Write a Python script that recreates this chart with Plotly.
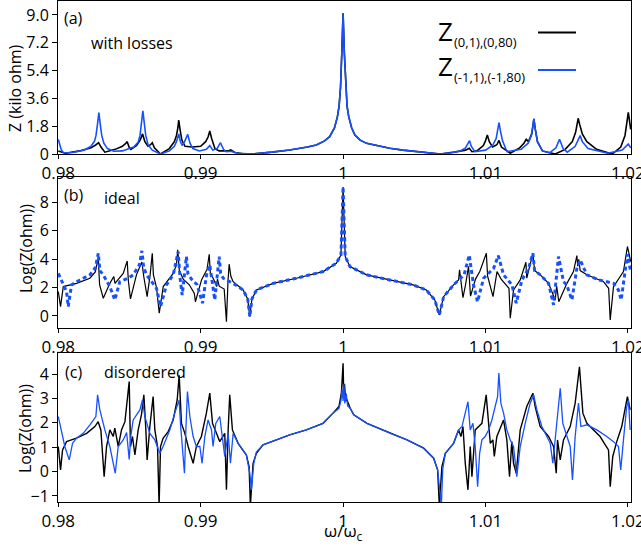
import plotly.graph_objects as go

# ---------------- data ----------------
# panel (a): Z in kilo-ohm
a_center_x = [0.99368, 0.99500, 0.99625, 0.99750, 0.99812, 0.99870, 0.99906, 0.99940, 0.99960, 0.99972,
              0.99982, 0.99991, 1.00000, 1.00009, 1.00018, 1.00028, 1.00040, 1.00060, 1.00083, 1.00120,
              1.00165, 1.00250, 1.00328, 1.00420, 1.00515, 1.00600, 1.00683]
a_center_y = [0.0, 0.12, 0.26, 0.45, 0.58, 0.85, 1.12, 1.7, 2.4, 3.1,
              4.3, 6.5, 9.1, 6.5, 4.3, 3.1, 2.4, 1.7, 1.23, 0.9,
              0.69, 0.5, 0.37, 0.25, 0.15, 0.06, 0.0]

a_blue_left_x = [0.98000, 0.98010, 0.98020, 0.98035, 0.98100, 0.98180, 0.98230, 0.98255, 0.98265, 0.98275,
                 0.98285, 0.98295, 0.98305, 0.98320, 0.98345, 0.98390, 0.98450, 0.98484, 0.98530, 0.98560,
                 0.98574, 0.98584, 0.98594, 0.98604, 0.98614, 0.98630, 0.98660, 0.98718, 0.98780, 0.98815,
                 0.98830, 0.98846, 0.98858, 0.98870, 0.98887, 0.98909, 0.98925, 0.98945, 0.98990, 0.99040,
                 0.99064, 0.99085, 0.99115, 0.99139, 0.99160, 0.99180, 0.99211, 0.99260]
a_blue_left_y = [0.95, 0.6, 0.3, 0.08, 0.10, 0.25, 0.5, 0.85, 1.2, 1.9,
                 2.68, 1.9, 1.2, 0.7, 0.35, 0.18, 0.2, 0.3, 0.45, 0.75,
                 1.2, 2.0, 2.8, 2.0, 1.2, 0.6, 0.25, 0.0, 0.2, 0.5,
                 0.8, 1.3, 0.8, 0.55, 0.8, 1.27, 0.7, 0.35, 0.2, 0.3,
                 0.54, 0.25, 0.35, 0.73, 0.3, 0.15, 0.18, 0.05]
a_blue_right_x = [1.00760, 1.00823, 1.00860, 1.00878, 1.00888, 1.00900, 1.00925, 1.01000, 1.01050, 1.01075,
                  1.01087, 1.01095, 1.01105, 1.01120, 1.01151, 1.01250, 1.01300, 1.01322, 1.01333, 1.01340,
                  1.01350, 1.01365, 1.01400, 1.01450, 1.01495, 1.01520, 1.01545, 1.01575, 1.01630, 1.01655,
                  1.01665, 1.01680, 1.01720, 1.01860, 1.01960, 1.02003, 1.02020]
a_blue_right_y = [0.08, 0.2, 0.4, 0.65, 0.86, 0.5, 0.15, 0.25, 0.55, 1.0,
                  1.5, 2.03, 1.5, 0.85, 0.15, 0.3, 0.7, 1.2, 1.8, 2.27,
                  1.6, 0.8, 0.2, 0.08, 0.4, 0.95, 0.35, 0.12, 0.5, 0.95,
                  1.19, 0.8, 0.35, 0.05, 0.25, 0.65, 0.4]

a_black_left_x = [0.98000, 0.98050, 0.98150, 0.98230, 0.98265, 0.98283, 0.98300, 0.98327, 0.98400, 0.98450,
                  0.98470, 0.98484, 0.98497, 0.98510, 0.98550, 0.98575, 0.98592, 0.98608, 0.98630, 0.98648,
                  0.98660, 0.98675, 0.98718, 0.98780, 0.98815, 0.98830, 0.98840, 0.98846, 0.98855, 0.98868,
                  0.98890, 0.98940, 0.99000, 0.99035, 0.99052, 0.99064, 0.99077, 0.99100, 0.99130, 0.99190,
                  0.99211, 0.99240, 0.99300]
a_black_left_y = [0.2, 0.05, 0.2, 0.4, 0.6, 0.73, 0.45, 0.12, 0.3, 0.5,
                  0.65, 0.8, 0.45, 0.3, 0.55, 0.9, 1.3, 0.8, 0.5, 0.6,
                  0.73, 0.4, 0.0, 0.35, 0.8, 1.2, 1.7, 2.2, 1.6, 0.9,
                  0.5, 0.45, 0.5, 0.8, 1.1, 1.49, 1.0, 0.35, 0.2, 0.2,
                  0.26, 0.1, 0.02]
a_black_right_x = [1.00780, 1.00860, 1.00886, 1.00905, 1.00940, 1.00985, 1.01000, 1.01013, 1.01027, 1.01050,
                   1.01080, 1.01095, 1.01112, 1.01174, 1.01240, 1.01270, 1.01286, 1.01302, 1.01325, 1.01340,
                   1.01350, 1.01365, 1.01400, 1.01490, 1.01560, 1.01610, 1.01633, 1.01645, 1.01651, 1.01662,
                   1.01680, 1.01712, 1.01780, 1.01890, 1.01950, 1.01980, 1.01995, 1.02003, 1.02020]
a_black_right_y = [0.12, 0.25, 0.37, 0.15, 0.2, 0.55, 0.85, 1.23, 0.8, 0.45,
                   0.6, 0.88, 0.45, 0.05, 0.4, 0.7, 0.95, 0.8, 1.3, 2.27,
                   1.6, 0.8, 0.2, 0.0, 0.3, 0.8, 1.4, 1.9, 2.31, 1.9,
                   1.3, 0.8, 0.3, 0.0, 0.45, 1.2, 2.0, 2.7, 1.6]

# panel (b): ideal, Log(Z(ohm))
b_center_x = [0.99298, 0.99330, 0.99345, 0.99360, 0.99392, 0.99509, 0.99672, 0.99860, 0.99953, 0.99985,
              1.00000, 1.00015, 1.00048, 1.00165, 1.00328, 1.00492, 1.00585, 1.00644, 1.00676, 1.00706,
              1.00776, 1.00811]
b_center_y = [1.83, 1.2, -0.05, 1.2, 1.83, 2.3, 2.66, 3.13, 3.72, 4.3,
              9.1, 4.2, 3.48, 2.9, 2.54, 2.19, 1.83, 1.13, 0.07, 1.36,
              2.19, 2.54]

b_black_left_x = [0.98000, 0.98016, 0.98035, 0.98128, 0.98222, 0.98260, 0.98281, 0.98290, 0.98316, 0.98362,
                  0.98390, 0.98398, 0.98456, 0.98484, 0.98492, 0.98507, 0.98549, 0.98575, 0.98587, 0.98600,
                  0.98624, 0.98645, 0.98660, 0.98668, 0.98690, 0.98709, 0.98737, 0.98807, 0.98830, 0.98839,
                  0.98850, 0.98877, 0.98920, 0.98955, 0.98963, 0.99006, 0.99045, 0.99060, 0.99068, 0.99090,
                  0.99112, 0.99118, 0.99130, 0.99165, 0.99181, 0.99192, 0.99200, 0.99212, 0.99228]
b_black_left_y = [1.72, 0.66, 2.07, 2.3, 2.66, 3.1, 4.07, 2.2, 1.25, 2.3,
                  2.78, 2.3, 3.0, 3.88, 2.5, 1.2, 2.9, 3.6, 3.8, 2.8,
                  1.36, 2.9, 4.42, 2.9, 2.0, 0.19, 2.07, 3.0, 3.6, 4.66,
                  3.2, 2.6, 2.2, 1.6, 1.0, 2.54, 3.3, 4.35, 3.0, 2.6,
                  2.07, 2.6, 2.1, 1.9, -0.4, 2.5, 3.65, 2.8, 2.42]
b_black_right_x = [1.00818, 1.00842, 1.00860, 1.00881, 1.00895, 1.00930, 1.00960, 1.01006, 1.01015, 1.01053,
                   1.01081, 1.01110, 1.01165, 1.01174, 1.01197, 1.01244, 1.01284, 1.01290, 1.01333, 1.01345,
                   1.01385, 1.01443, 1.01490, 1.01500, 1.01515, 1.01572, 1.01618, 1.01642, 1.01648, 1.01655,
                   1.01665, 1.01712, 1.01829, 1.01865, 1.01876, 1.01899, 1.01969, 1.01997, 1.02020]
b_black_right_y = [3.25, 1.29, 2.2, 3.5, 1.4, 2.6, 3.13, 4.42, 2.8, 1.36,
                   3.13, 2.6, 1.95, -0.16, 1.83, 2.54, 3.79, 2.66, 4.42, 3.2,
                   2.9, 2.3, 1.13, 2.1, 1.0, 2.3, 3.13, 4.26, 3.5, 4.0,
                   3.2, 2.9, 2.42, 1.95, -0.28, 2.07, 3.13, 4.9, 3.83]

b_blue_left_x = [0.98000, 0.98035, 0.98058, 0.98070, 0.98093, 0.98152, 0.98222, 0.98260, 0.98281, 0.98292,
                 0.98316, 0.98362, 0.98397, 0.98432, 0.98491, 0.98526, 0.98570, 0.98587, 0.98600, 0.98620,
                 0.98690, 0.98718, 0.98760, 0.98807, 0.98842, 0.98855, 0.98870, 0.98900, 0.98910, 0.98935,
                 0.98975, 0.99013, 0.99041, 0.99064, 0.99075, 0.99099, 0.99130, 0.99140, 0.99158, 0.99228]
b_blue_left_y = [3.0, 2.19, 1.72, 0.66, 2.19, 2.54, 2.9, 3.4, 4.42, 3.2,
                 2.9, 2.07, 1.13, 2.42, 2.66, 2.9, 3.6, 4.59, 3.4, 2.9,
                 1.95, 0.66, 2.19, 2.9, 4.54, 2.7, 1.48, 4.19, 3.0, 2.6,
                 2.2, 0.9, 2.9, 3.6, 2.8, 1.13, 4.19, 3.0, 2.66, 2.3]
b_blue_right_x = [1.00850, 1.00886, 1.00916, 1.00944, 1.00987, 1.01057, 1.01090, 1.01127, 1.01186, 1.01216,
                  1.01256, 1.01303, 1.01333, 1.01345, 1.01385, 1.01443, 1.01478, 1.01513, 1.01548, 1.01570,
                  1.01607, 1.01642, 1.01665, 1.01712, 1.01797, 1.01899, 1.01934, 1.01953, 1.01981, 1.01997,
                  1.02020]
b_blue_right_y = [2.9, 4.3, 2.19, 1.0, 2.66, 3.36, 4.26, 2.9, 2.19, 0.9,
                  2.54, 3.36, 4.42, 3.2, 2.9, 2.3, 0.78, 4.19, 2.42, 2.2,
                  1.13, 3.36, 3.95, 2.9, 2.54, 2.3, 1.83, 1.13, 3.13, 4.35,
                  3.13]

# panel (c): disordered, Log(Z(ohm))
c_black_x = [0.98000, 0.98007, 0.98016, 0.98030, 0.98058, 0.98128, 0.98199, 0.98257, 0.98280, 0.98299,
             0.98315, 0.98322, 0.98339, 0.98362, 0.98386, 0.98397, 0.98421, 0.98444, 0.98468, 0.98484,
             0.98498, 0.98507, 0.98521, 0.98538, 0.98561, 0.98584, 0.98601, 0.98615, 0.98624, 0.98643,
             0.98666, 0.98678, 0.98697, 0.98708, 0.98718, 0.98736, 0.98772, 0.98807, 0.98835, 0.98849,
             0.98865, 0.98889, 0.98912, 0.98947, 0.98970, 0.99005, 0.99040, 0.99064, 0.99083, 0.99111,
             0.99134, 0.99169, 0.99181, 0.99193, 0.99204, 0.99223, 0.99263, 0.99321, 0.99340, 0.99349,
             0.99368, 0.99391, 0.99438, 0.99532, 0.99625, 0.99742, 0.99859, 0.99929, 0.99971, 0.99988,
             1.00000, 1.00005, 1.00010, 1.00018, 1.00028, 1.00050, 1.00075, 1.00168, 1.00332, 1.00449,
             1.00566, 1.00636, 1.00664, 1.00676, 1.00694, 1.00718, 1.00776, 1.00811, 1.00828, 1.00842,
             1.00858, 1.00877, 1.00893, 1.00905, 1.00928, 1.00975, 1.01005, 1.01022, 1.01034, 1.01052,
             1.01062, 1.01080, 1.01127, 1.01150, 1.01169, 1.01185, 1.01197, 1.01216, 1.01244, 1.01290,
             1.01333, 1.01349, 1.01384, 1.01443, 1.01478, 1.01497, 1.01506, 1.01525, 1.01548, 1.01595,
             1.01630, 1.01660, 1.01684, 1.01712, 1.01759, 1.01805, 1.01841, 1.01864, 1.01876, 1.01894,
             1.01922, 1.01957, 1.01988, 1.01997, 1.02016]
c_black_y = [1.03, 0.62, 0.07, 0.89, 1.23, 1.37, 1.57, 1.85, 2.05, 1.71,
             0.48, -0.21, 1.03, 1.71, 1.44, 1.78, 1.03, 1.71, 2.05, 2.94,
             3.7, 1.03, 1.44, 0.68, 1.71, 2.33, 3.15, 1.71, 0.48, 1.85,
             3.08, 1.71, 1.03, -1.4, 1.03, 1.37, 1.64, 2.12, 2.94, 3.95,
             1.98, 1.57, 1.03, 0.34, 1.03, 1.44, 2.4, 3.22, 1.98, 1.57,
             1.23, 1.57, -0.75, 1.71, 3.15, 1.71, 1.16, 0.68, 0.2, -1.4,
             0.34, 0.75, 1.1, 1.3, 1.51, 1.71, 1.98, 2.4, 2.67, 3.22,
             4.45, 3.0, 3.6, 2.9, 2.94, 2.6, 2.33, 1.98, 1.57, 1.3,
             0.96, 0.55, 0.07, -1.4, 0.2, 0.75, 1.16, 1.71, 1.44, 1.85,
             0.34, -0.75, 1.03, -0.21, 1.71, 1.98, 3.15, 1.98, 1.16, 1.3,
             0.62, 1.44, 2.12, 1.3, -0.21, 1.23, 0.34, -0.07, 1.71, 2.67,
             3.22, 2.67, 1.85, 1.44, 1.03, -0.07, 1.3, 0.48, 1.3, 1.85,
             2.81, 4.3, 2.4, 1.98, 1.71, 1.44, 1.1, 0.89, -0.62, 0.62,
             1.23, 1.85, 2.81, 3.08, 2.53]

c_blue_x = [0.98000, 0.98023, 0.98046, 0.98077, 0.98100, 0.98128, 0.98175, 0.98222, 0.98264, 0.98276,
            0.98292, 0.98327, 0.98362, 0.98386, 0.98400, 0.98421, 0.98456, 0.98480, 0.98498, 0.98510,
            0.98526, 0.98573, 0.98591, 0.98608, 0.98643, 0.98678, 0.98713, 0.98736, 0.98783, 0.98818,
            0.98849, 0.98858, 0.98877, 0.98886, 0.98896, 0.98907, 0.98924, 0.98947, 0.98970, 0.98994,
            0.99010, 0.99029, 0.99052, 0.99076, 0.99087, 0.99106, 0.99134, 0.99158, 0.99169, 0.99193,
            0.99209, 0.99228, 0.99263, 0.99321, 0.99345, 0.99356, 0.99373, 0.99391, 0.99438, 0.99532,
            0.99625, 0.99742, 0.99859, 0.99929, 0.99971, 0.99985, 0.99993, 1.00000, 1.00006, 1.00012,
            1.00022, 1.00032, 1.00050, 1.00075, 1.00168, 1.00332, 1.00449, 1.00566, 1.00636, 1.00664,
            1.00690, 1.00700, 1.00718, 1.00776, 1.00811, 1.00835, 1.00877, 1.00893, 1.00912, 1.00928,
            1.00945, 1.00959, 1.00975, 1.00998, 1.01022, 1.01045, 1.01069, 1.01085, 1.01094, 1.01108,
            1.01127, 1.01150, 1.01174, 1.01197, 1.01220, 1.01244, 1.01279, 1.01314, 1.01338, 1.01361,
            1.01396, 1.01431, 1.01455, 1.01473, 1.01490, 1.01506, 1.01525, 1.01543, 1.01571, 1.01595,
            1.01611, 1.01630, 1.01653, 1.01670, 1.01712, 1.01782, 1.01852, 1.01899, 1.01934, 1.01950,
            1.01969, 1.01992, 1.02004, 1.02016]
c_blue_y = [2.26, 1.57, 1.03, 0.48, 1.16, 1.37, 1.57, 1.92, 2.26, 3.15,
            2.53, 1.71, 1.03, 0.34, -0.07, 1.03, 1.3, 1.6, 0.5, 1.5,
            2.12, 2.53, 2.94, 2.26, 1.57, 1.3, 0.75, 1.03, 1.71, 2.4,
            2.94, 1.98, 0.62, -0.07, 1.71, 3.29, 2.26, 1.44, 1.03, 1.03,
            0.34, 1.44, 2.12, 1.71, 1.03, 1.98, 2.26, 1.03, 0.62, 1.57,
            0.34, 1.57, 1.16, 0.68, -0.07, -0.75, 0.34, 0.8, 1.1, 1.3,
            1.51, 1.71, 1.98, 2.4, 2.6, 2.9, 3.4, 2.9, 3.6, 2.8,
            3.2, 2.7, 2.6, 2.33, 1.98, 1.57, 1.3, 0.96, 0.55, 0.07,
            -1.4, 0.1, 0.75, 1.16, 1.71, 1.85, 2.87, 1.71, 1.98, 1.03,
            -0.62, 0.75, 1.3, 1.44, 1.71, 2.12, 2.67, 3.08, 4.05, 2.81,
            2.4, 1.71, 1.3, 1.03, -0.21, 1.03, 1.98, 2.81, 3.15, 2.53,
            1.85, 1.44, 1.16, 0.34, 1.3, 2.46, 3.42, 1.98, 1.44, 1.03,
            -0.34, 1.44, 2.81, 1.85, 1.92, 1.71, 1.44, 1.23, 1.03, 0.07,
            1.3, 2.67, 2.94, 1.71]

x_ticks = [0.98, 0.99, 1.0, 1.01, 1.02]
x_tick_labels = ["0.98", "0.99", "1", "1.01", "1.02"]
a_ticks = [0, 1.8, 3.6, 5.4, 7.2, 9.0]
a_tick_labels = ["0", "1.8", "3.6", "5.4", "7.2", "9.0"]
b_ticks = [0, 2, 4, 6, 8]
c_ticks = [-1, 0, 1, 2, 3, 4]

legend_labels = ["(0,1),(0,80)", "(-1,1),(-1,80)"]

# ---------------- figure ----------------
BLACK = "#000000"
BLUE = "#1650ff"
FONT = "Open Sans"
W, H = 641, 550
ML, MR, MT, MB = 58, 10, 1, 48

def px2paper(px, py):
    return (px - ML) / (W - ML - MR), 1 - (py - MT) / (H - MT - MB)

fig = go.Figure()

def add(x, y, color, width, xa, ya, dash=None):
    fig.add_trace(go.Scatter(x=x, y=y, mode="lines",
                             line=dict(color=color, width=width, dash=dash),
                             xaxis=xa, yaxis=ya, showlegend=False, hoverinfo="skip"))

add(a_black_left_x + a_center_x + a_black_right_x, a_black_left_y + a_center_y + a_black_right_y,
    BLACK, 1.6, "x", "y")
add(a_blue_left_x + a_center_x + a_blue_right_x, a_blue_left_y + a_center_y + a_blue_right_y,
    BLUE, 1.6, "x", "y")
add(b_black_left_x + b_center_x + b_black_right_x, b_black_left_y + b_center_y + b_black_right_y,
    BLACK, 1.2, "x2", "y2")
add(b_blue_left_x + b_center_x + b_blue_right_x, b_blue_left_y + b_center_y + b_blue_right_y,
    BLUE, 3, "x2", "y2", dash="4px,3px")
add(c_black_x, c_black_y, BLACK, 1.4, "x3", "y3")
add(c_blue_x, c_blue_y, BLUE, 1.3, "x3", "y3")

XR = [0.97998, 1.02022]
dom_a = [px2paper(0, 154)[1], px2paper(0, 1)[1]]
dom_b = [px2paper(0, 328)[1], px2paper(0, 177)[1]]
dom_c = [0, px2paper(0, 353)[1]]

tickfont_x = dict(family=FONT, size=17, color="black")
tickfont_y = dict(family=FONT, size=16, color="black")

def xax(anchor):
    return dict(domain=[0, 1], range=XR, anchor=anchor, tickmode="array", tickvals=x_ticks,
                ticktext=x_tick_labels, ticks="outside", ticklen=4, tickcolor="black",
                showline=True, linecolor="black", linewidth=1, mirror=True, automargin=False,
                ticklabeloverflow="allow",
                showgrid=False, zeroline=False, tickfont=tickfont_x)

def yax(anchor, dom, rng, tv, tt=None):
    d = dict(domain=dom, range=rng, anchor=anchor, tickmode="array", tickvals=tv,
             ticks="outside", ticklen=5, tickcolor="black", automargin=False,
             showline=True, linecolor="black", linewidth=1, mirror=True,
             showgrid=False, zeroline=False, tickfont=tickfont_y)
    if tt is not None:
        d["ticktext"] = tt
    return d

def xtop(over, anchor):
    return dict(overlaying=over, anchor=anchor, side="top", range=XR, tickmode="array",
                tickvals=x_ticks, ticks="inside", ticklen=4, tickcolor="black", automargin=False,
                showticklabels=False, showline=False, showgrid=False, zeroline=False)

def yright(over, anchor, rng, dt):
    return dict(overlaying=over, anchor=anchor, side="right", range=rng, tickmode="linear",
                tick0=0, dtick=dt, ticks="inside", ticklen=3, tickcolor="black", automargin=False,
                showticklabels=False, showline=False, showgrid=False, zeroline=False)

RA = [0, 9.9]
RB = [-0.85, 9.8]
RC = [-1.25, 4.87]

fig.update_layout(
    template="none",
    width=W, height=H, margin=dict(l=ML, r=MR, t=MT, b=MB),
    paper_bgcolor="white", plot_bgcolor="white",
    font=dict(family=FONT, color="black"),
    xaxis=xax("y"), xaxis2=xax("y2"), xaxis3=xax("y3"),
    yaxis=yax("x", dom_a, RA, a_ticks, a_tick_labels),
    yaxis2=yax("x2", dom_b, RB, b_ticks),
    yaxis3=yax("x3", dom_c, RC, c_ticks),
    xaxis5=xtop("x2", "y2"), xaxis6=xtop("x3", "y3"),
    yaxis5=yright("y2", "x2", RB, 1), yaxis6=yright("y3", "x3", RC, 0.5),
)

ann = []
def text(px, py, s, size, xanchor="left", yanchor="middle", angle=0):
    xp, yp = px2paper(px, py)
    ann.append(dict(x=xp, y=yp, xref="paper", yref="paper", text=s, showarrow=False,
                    xanchor=xanchor, yanchor=yanchor, textangle=angle,
                    font=dict(family=FONT, size=size, color="black")))

text(62, 18, "(a)", 16)
text(89, 43, "with losses", 16)
text(62, 195, "(b)", 16)
text(102, 198, "ideal", 16)
text(63, 372, "(c)", 16)
text(102, 372, "disordered", 16)
text(15, 88, "Z (kilo ohm)", 16, xanchor="center", angle=-90)
text(26, 249, "Log(Z(ohm))", 16, xanchor="center", angle=-90)
text(25, 429, "Log(Z(ohm))", 16, xanchor="center", angle=-90)
text(343, 531, "ω/ω<sub>c</sub>", 17, xanchor="center")

# legend
text(436, 31, "Z", 26)
text(452, 42, legend_labels[0], 13)
text(436, 66, "Z", 26)
text(452, 77, legend_labels[1], 13)
fig.update_layout(annotations=ann)

for (py, col) in [(32.5, BLACK), (70, BLUE)]:
    x0, y0 = px2paper(538, py)
    x1, _ = px2paper(576, py)
    fig.add_shape(type="line", xref="paper", yref="paper", x0=x0, x1=x1, y0=y0, y1=y0,
                  line=dict(color=col, width=1.8))

fig.write_html("out.html", config={"displayModeBar": False},
               post_script="document.body.style.margin='0';document.body.style.padding='0';")
